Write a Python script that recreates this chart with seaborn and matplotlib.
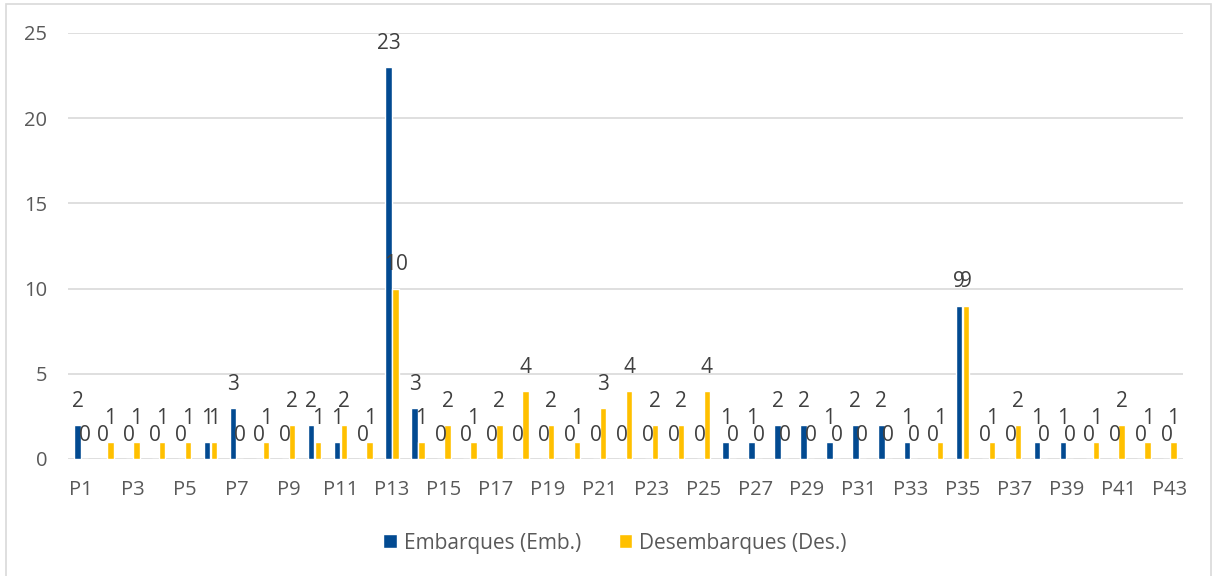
import matplotlib
matplotlib.use("Agg")
import matplotlib.pyplot as plt
from matplotlib.patches import Rectangle
import seaborn as sns
import pandas as pd

paradas = [f"P{i}" for i in range(1, 44)]
embarques = [2, 0, 0, 0, 0, 1, 3, 0, 0, 2, 1, 0, 23, 3, 0, 0, 0, 0, 0, 0, 0, 0,
             0, 0, 0, 1, 1, 2, 2, 1, 2, 2, 1, 0, 9, 0, 0, 1, 1, 0, 0, 0, 0]
desembarques = [0, 1, 1, 1, 1, 1, 0, 1, 2, 1, 2, 1, 10, 1, 2, 1, 2, 4, 2, 1, 3, 4,
                2, 2, 4, 0, 0, 0, 0, 0, 0, 0, 0, 1, 9, 1, 2, 0, 0, 1, 2, 1, 1]
series = ["Embarques (Emb.)", "Desembarques (Des.)"]
colores = ["#024A91", "#FFC000"]
y_ticks = [0, 5, 10, 15, 20, 25]

df = pd.DataFrame({
    "Parada": paradas * 2,
    "Serie": [series[0]] * len(paradas) + [series[1]] * len(paradas),
    "Valor": embarques + desembarques,
})

sns.set_theme(style="white")
plt.rcParams["font.family"] = ["Open Sans", "DejaVu Sans"]
texto = "#595959"
fs = 14.5

fig = plt.figure(figsize=(12.14, 5.76), dpi=100)
ax = fig.add_axes([68 / 1214, 1 - 459 / 576, (1183 - 68) / 1214, (459 - 33) / 576])

sns.barplot(data=df, x="Parada", y="Valor", hue="Serie", hue_order=series,
            palette=colores, width=0.54, gap=0.08, ax=ax, legend=True,
            saturation=1)

for cont in ax.containers:
    ax.bar_label(cont, fmt="%d", padding=9.5, fontsize=15, color="#404040")

ax.set_ylim(0, 25)
ax.set_xlim(-0.5, len(paradas) - 0.5)
ax.set_yticks(y_ticks)
ax.set_xticks(range(0, len(paradas), 2))
ax.set_xticklabels(paradas[::2])
ax.yaxis.grid(True, color="#D9D9D9", linewidth=1.2)
ax.set_axisbelow(True)
for s in ax.spines.values():
    s.set_visible(False)
ax.tick_params(axis="both", length=0, labelsize=fs, labelcolor=texto)
ax.tick_params(axis="y", pad=15)
ax.tick_params(axis="x", pad=15)
ax.set_xlabel("")
ax.set_ylabel("")

handles, labels = ax.get_legend_handles_labels()
ax.get_legend().remove()
fig.legend(handles, labels, loc="center", bbox_to_anchor=(615 / 1214, 1 - 543 / 576),
           ncol=2, frameon=False, fontsize=15, labelcolor=texto,
           handlelength=0.65, handleheight=0.65, handletextpad=0.35, columnspacing=1.8)

fig.patches.append(Rectangle((6 / 1214, -0.02), (1211 - 6) / 1214, 1.02 - 4 / 576,
                             transform=fig.transFigure, fill=False,
                             edgecolor="#D9D9D9", linewidth=1.2))

fig.savefig("out.png", dpi=100)
